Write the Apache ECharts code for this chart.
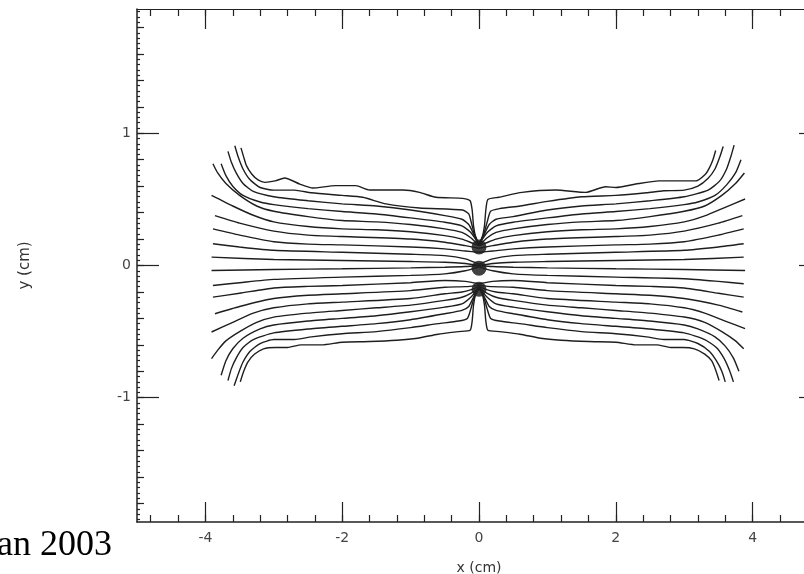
<!DOCTYPE html>
<html>
<head>
    <meta charset="utf-8">
    <title>field lines</title>
    <script src="https://cdn.jsdelivr.net/npm/echarts@6.0.0/dist/echarts.min.js"></script>
    <style>
        html, body { margin: 0; padding: 0; background: #fff; overflow: hidden; }
        /* the frame runs a little past the right edge of the picture */
        #main { width: 824px; height: 574px; }
    </style>
</head>
<body>
<div id="main"></div>
<script type="text/javascript">
    // field lines, [x, y] in cm, top to bottom
    var leftLines = [
        [[-3.48,0.89],[-3.44,0.82],[-3.40,0.755],[-3.32,0.69],[-3.23,0.647],[-3.13,0.629],[-2.98,0.64],[-2.84,0.662],[-2.62,0.616],[-2.43,0.586],[-2.1,0.604],[-1.8,0.604],[-1.6,0.571],[-1.11,0.571],[-0.87,0.553],[-0.63,0.516],[-0.24,0.508],[-0.13,0.49],[-0.1,0.42],[-0.08,0.3],[-0.05,0.22],[0,0.16]],
        [[-3.57,0.906],[-3.52,0.82],[-3.45,0.73],[-3.35,0.65],[-3.2,0.59],[-3.0,0.57],[-2.7,0.57],[-2.45,0.55],[-2.0,0.53],[-1.7,0.516],[-1.36,0.466],[-0.87,0.435],[-0.24,0.42],[-0.15,0.39],[-0.11,0.32],[-0.07,0.24],[0,0.16]],
        [[-3.67,0.863],[-3.62,0.78],[-3.55,0.70],[-3.45,0.62],[-3.3,0.56],[-3.0,0.52],[-2.5,0.49],[-2.0,0.466],[-1.5,0.45],[-1.0,0.42],[-0.5,0.377],[-0.25,0.35],[-0.15,0.31],[-0.08,0.24],[0,0.16]],
        [[-3.77,0.77],[-3.7,0.68],[-3.6,0.6],[-3.45,0.53],[-3.2,0.48],[-3.0,0.46],[-2.5,0.43],[-2.0,0.408],[-1.5,0.39],[-1.0,0.36],[-0.5,0.327],[-0.25,0.30],[-0.12,0.25],[0,0.16]],
        [[-3.89,0.77],[-3.82,0.70],[-3.7,0.62],[-3.5,0.53],[-3.25,0.45],[-3.0,0.41],[-2.5,0.37],[-2.0,0.34],[-1.5,0.33],[-1.0,0.31],[-0.5,0.277],[-0.25,0.25],[-0.12,0.21],[0,0.15]],
        [[-3.91,0.53],[-3.6,0.45],[-3.3,0.38],[-3.0,0.33],[-2.5,0.295],[-2.0,0.277],[-1.5,0.27],[-1.0,0.255],[-0.5,0.226],[-0.25,0.2],[-0.1,0.17],[0,0.15]],
        [[-3.86,0.377],[-3.5,0.32],[-3.0,0.26],[-2.5,0.23],[-2.0,0.219],[-1.0,0.2],[-0.5,0.176],[-0.2,0.15],[0,0.13]],
        [[-3.89,0.277],[-3.5,0.23],[-3.0,0.18],[-2.5,0.162],[-2.0,0.156],[-1.0,0.14],[-0.5,0.126],[-0.2,0.11],[0,0.1]],
        [[-3.89,0.164],[-3.5,0.14],[-3.0,0.115],[-2.0,0.1],[-1.0,0.085],[-0.5,0.075],[-0.2,0.05],[0,0.01]],
        [[-3.91,0.063],[-3.0,0.045],[-2.0,0.038],[-1.0,0.03],[-0.5,0.025],[-0.2,0.015],[0,0]],
        [[-3.91,-0.038],[-3.0,-0.03],[-2.0,-0.025],[-1.0,-0.018],[-0.5,-0.013],[-0.2,-0.008],[0,0]],
        [[-3.89,-0.151],[-3.5,-0.13],[-3.0,-0.105],[-2.0,-0.088],[-1.0,-0.075],[-0.5,-0.063],[-0.2,-0.04],[0,-0.01]],
        [[-3.89,-0.239],[-3.5,-0.21],[-3.0,-0.17],[-2.5,-0.158],[-2.0,-0.151],[-1.0,-0.13],[-0.5,-0.113],[-0.2,-0.12],[0,-0.14]],
        [[-3.86,-0.365],[-3.5,-0.31],[-3.0,-0.25],[-2.5,-0.225],[-2.0,-0.214],[-1.0,-0.19],[-0.5,-0.164],[-0.2,-0.16],[0,-0.15]],
        [[-3.91,-0.503],[-3.6,-0.43],[-3.3,-0.36],[-3.0,-0.32],[-2.5,-0.29],[-2.0,-0.277],[-1.0,-0.25],[-0.5,-0.214],[-0.25,-0.2],[-0.1,-0.18],[0,-0.16]],
        [[-3.91,-0.704],[-3.82,-0.64],[-3.7,-0.57],[-3.5,-0.5],[-3.25,-0.43],[-3.0,-0.39],[-2.5,-0.36],[-2.0,-0.34],[-1.5,-0.32],[-1.0,-0.3],[-0.5,-0.264],[-0.25,-0.24],[-0.12,-0.21],[0,-0.17]],
        [[-3.77,-0.83],[-3.7,-0.72],[-3.6,-0.63],[-3.45,-0.55],[-3.2,-0.48],[-3.0,-0.45],[-2.5,-0.42],[-2.0,-0.40],[-1.5,-0.38],[-1.0,-0.35],[-0.5,-0.315],[-0.25,-0.29],[-0.12,-0.24],[0,-0.17]],
        [[-3.67,-0.87],[-3.62,-0.78],[-3.55,-0.70],[-3.45,-0.62],[-3.3,-0.56],[-3.0,-0.51],[-2.5,-0.48],[-2.0,-0.46],[-1.5,-0.44],[-1.0,-0.41],[-0.5,-0.365],[-0.25,-0.34],[-0.15,-0.31],[-0.08,-0.24],[0,-0.17]],
        [[-3.58,-0.91],[-3.52,-0.82],[-3.45,-0.73],[-3.35,-0.65],[-3.2,-0.59],[-3.0,-0.56],[-2.7,-0.56],[-2.45,-0.54],[-2.0,-0.516],[-1.5,-0.5],[-1.0,-0.47],[-0.6,-0.44],[-0.3,-0.42],[-0.17,-0.40],[-0.12,-0.33],[-0.07,-0.24],[0,-0.17]],
        [[-3.49,-0.88],[-3.44,-0.80],[-3.38,-0.73],[-3.28,-0.67],[-3.15,-0.63],[-2.98,-0.62],[-2.8,-0.62],[-2.6,-0.60],[-2.3,-0.60],[-2.0,-0.58],[-1.6,-0.575],[-1.2,-0.565],[-0.9,-0.55],[-0.6,-0.52],[-0.3,-0.50],[-0.13,-0.49],[-0.1,-0.42],[-0.08,-0.3],[-0.05,-0.22],[0,-0.17]]
    ];

    var rightLines = [
        [[3.46,0.87],[3.42,0.80],[3.37,0.74],[3.31,0.69],[3.17,0.64],[2.92,0.64],[2.63,0.64],[2.29,0.616],[2.0,0.59],[1.85,0.596],[1.56,0.553],[1.12,0.571],[0.63,0.553],[0.29,0.516],[0.13,0.5],[0.1,0.42],[0.08,0.3],[0.05,0.22],[0,0.16]],
        [[3.57,0.90],[3.52,0.82],[3.45,0.73],[3.35,0.66],[3.2,0.60],[3.0,0.57],[2.7,0.565],[2.45,0.55],[2.0,0.53],[1.5,0.52],[1.0,0.485],[0.6,0.45],[0.3,0.43],[0.17,0.41],[0.12,0.33],[0.07,0.24],[0,0.16]],
        [[3.73,0.91],[3.68,0.82],[3.62,0.73],[3.52,0.64],[3.35,0.57],[3.0,0.52],[2.5,0.49],[2.0,0.466],[1.5,0.45],[1.0,0.42],[0.5,0.37],[0.25,0.35],[0.15,0.31],[0.08,0.24],[0,0.16]],
        [[3.83,0.80],[3.75,0.70],[3.62,0.61],[3.45,0.53],[3.2,0.48],[3.0,0.46],[2.5,0.43],[2.0,0.408],[1.5,0.39],[1.0,0.36],[0.5,0.327],[0.25,0.30],[0.12,0.25],[0,0.16]],
        [[3.88,0.70],[3.75,0.62],[3.55,0.53],[3.3,0.45],[3.0,0.41],[2.5,0.37],[2.0,0.34],[1.5,0.33],[1.0,0.31],[0.5,0.277],[0.25,0.25],[0.12,0.21],[0,0.15]],
        [[3.89,0.503],[3.6,0.44],[3.3,0.375],[3.0,0.33],[2.5,0.295],[2.0,0.277],[1.5,0.27],[1.0,0.255],[0.5,0.226],[0.25,0.2],[0.1,0.17],[0,0.15]],
        [[3.85,0.377],[3.5,0.32],[3.0,0.26],[2.5,0.23],[2.0,0.219],[1.0,0.2],[0.5,0.176],[0.2,0.15],[0,0.13]],
        [[3.87,0.277],[3.5,0.23],[3.0,0.18],[2.5,0.162],[2.0,0.156],[1.0,0.14],[0.5,0.126],[0.2,0.11],[0,0.1]],
        [[3.87,0.164],[3.5,0.14],[3.0,0.115],[2.0,0.1],[1.0,0.085],[0.5,0.075],[0.2,0.05],[0,0.01]],
        [[3.87,0.063],[3.0,0.045],[2.0,0.038],[1.0,0.03],[0.5,0.025],[0.2,0.015],[0,0]],
        [[3.89,-0.038],[3.0,-0.03],[2.0,-0.025],[1.0,-0.018],[0.5,-0.013],[0.2,-0.008],[0,0]],
        [[3.87,-0.138],[3.5,-0.12],[3.0,-0.10],[2.0,-0.088],[1.0,-0.075],[0.5,-0.063],[0.2,-0.04],[0,-0.01]],
        [[3.87,-0.239],[3.5,-0.21],[3.0,-0.17],[2.5,-0.158],[2.0,-0.151],[1.0,-0.13],[0.5,-0.113],[0.2,-0.12],[0,-0.14]],
        [[3.85,-0.352],[3.5,-0.30],[3.0,-0.25],[2.5,-0.225],[2.0,-0.214],[1.0,-0.19],[0.5,-0.164],[0.2,-0.16],[0,-0.15]],
        [[3.89,-0.478],[3.6,-0.42],[3.3,-0.36],[3.0,-0.32],[2.5,-0.29],[2.0,-0.277],[1.0,-0.25],[0.5,-0.214],[0.25,-0.2],[0.1,-0.18],[0,-0.16]],
        [[3.87,-0.63],[3.75,-0.57],[3.55,-0.5],[3.3,-0.43],[3.0,-0.39],[2.5,-0.36],[2.0,-0.34],[1.5,-0.32],[1.0,-0.3],[0.5,-0.264],[0.25,-0.24],[0.12,-0.21],[0,-0.17]],
        [[3.80,-0.80],[3.72,-0.70],[3.6,-0.61],[3.45,-0.54],[3.2,-0.48],[3.0,-0.45],[2.5,-0.42],[2.0,-0.40],[1.5,-0.38],[1.0,-0.35],[0.5,-0.315],[0.25,-0.29],[0.12,-0.24],[0,-0.17]],
        [[3.72,-0.88],[3.66,-0.79],[3.58,-0.70],[3.47,-0.62],[3.3,-0.56],[3.0,-0.51],[2.5,-0.48],[2.0,-0.46],[1.5,-0.44],[1.0,-0.41],[0.5,-0.365],[0.25,-0.34],[0.15,-0.31],[0.08,-0.24],[0,-0.17]],
        [[3.60,-0.88],[3.55,-0.80],[3.47,-0.72],[3.37,-0.65],[3.2,-0.59],[3.0,-0.56],[2.7,-0.56],[2.45,-0.54],[2.0,-0.516],[1.5,-0.5],[1.0,-0.47],[0.6,-0.44],[0.3,-0.42],[0.17,-0.40],[0.12,-0.33],[0.07,-0.24],[0,-0.17]],
        [[3.51,-0.87],[3.46,-0.79],[3.40,-0.72],[3.30,-0.67],[3.15,-0.63],[2.98,-0.62],[2.8,-0.62],[2.6,-0.60],[2.3,-0.60],[2.0,-0.58],[1.6,-0.575],[1.2,-0.565],[0.9,-0.55],[0.6,-0.52],[0.3,-0.50],[0.13,-0.49],[0.1,-0.42],[0.08,-0.3],[0.05,-0.22],[0,-0.17]]
    ];

    var charges = [[0, 0.14], [0, -0.02], [0, -0.18]];

    var xMajor = [-4, -2, 0, 2, 4];
    var xMinor = [-4.8, -4.4, -4, -3.6, -3.2, -2.8, -2.4, -2, -1.6, -1.2, -0.8, -0.4, 0,
        0.4, 0.8, 1.2, 1.6, 2, 2.4, 2.8, 3.2, 3.6, 4, 4.4, 4.8];
    var yMajor = [-1, 0, 1];
    var yMinor = [-1.8, -1.6, -1.4, -1.2, -1, -0.8, -0.6, -0.4, -0.2, 0,
        0.2, 0.4, 0.6, 0.8, 1, 1.2, 1.4, 1.6, 1.8];
    // tiny ruler marks along the left frame
    var yFine = [];
    for (var f = -48; f <= 48; f++) {
        yFine.push(Math.round(f * 0.04 * 100) / 100);
    }

    var X_MIN = -5, X_MAX = 5, Y_MIN = -1.94, Y_MAX = 1.94;
    var frameColor = '#222';
    var labelFont = {color: '#444', fontFamily: 'DejaVu Sans', fontSize: 14};

    function xAx(pos, ticks, len, opts) {
        var a = {
            type: 'value', position: pos, min: X_MIN, max: X_MAX,
            axisLine: {show: false, onZero: false, lineStyle: {color: frameColor, width: 1.5}},
            axisTick: {show: true, inside: true, length: len, customValues: ticks,
                lineStyle: {color: frameColor, width: 1.2}},
            axisLabel: {show: false},
            splitLine: {show: false}
        };
        return Object.assign(a, opts || {});
    }

    function yAx(pos, ticks, len, opts) {
        var a = {
            type: 'value', position: pos, min: Y_MIN, max: Y_MAX,
            axisLine: {show: false, onZero: false, lineStyle: {color: frameColor, width: 1.5}},
            axisTick: {show: true, inside: true, length: len, customValues: ticks,
                lineStyle: {color: frameColor, width: 1.2}},
            axisLabel: {show: false},
            splitLine: {show: false}
        };
        return Object.assign(a, opts || {});
    }

    var series = [];
    leftLines.concat(rightLines).forEach(function (line) {
        series.push({
            type: 'line',
            data: line,
            symbol: 'none',
            smooth: 0.2,
            silent: true,
            lineStyle: {color: '#1e1e1e', width: 1.4}
        });
    });
    series.push({
        type: 'scatter',
        data: charges,
        symbolSize: 15,
        silent: true,
        itemStyle: {color: '#111'}
    });

    var dom = document.getElementById('main');
    var myChart = echarts.init(dom, null, {renderer: 'canvas'});

    var option = {
        animation: false,
        backgroundColor: '#fff',
        grid: {left: 137, right: 3, top: 9, bottom: 52, containLabel: false, outerBoundsMode: 'none'},
        xAxis: [
            xAx('bottom', xMinor, 7, {
                axisLine: {show: true, onZero: false, lineStyle: {color: frameColor, width: 1.5}},
                axisLabel: Object.assign({show: true, customValues: xMajor, margin: 9}, labelFont),
                name: 'x (cm)', nameLocation: 'middle', nameGap: 39,
                nameTextStyle: {color: '#333', fontFamily: 'DejaVu Sans', fontSize: 14}
            }),
            xAx('bottom', xMajor, 20),
            xAx('top', xMinor, 7, {
                axisLine: {show: true, onZero: false, lineStyle: {color: frameColor, width: 1.2}}
            }),
            xAx('top', xMajor, 20)
        ],
        yAxis: [
            yAx('left', yMinor, 7, {
                axisLine: {show: true, onZero: false, lineStyle: {color: frameColor, width: 1.5}},
                axisLabel: Object.assign({show: true, customValues: yMajor, margin: 6}, labelFont),
                name: 'y (cm)', nameLocation: 'middle', nameGap: 104,
                nameTextStyle: {color: '#333', fontFamily: 'DejaVu Sans', fontSize: 15}
            }),
            yAx('left', yMajor, 22),
            yAx('left', yFine, 3),
            yAx('right', yMinor, 7, {
                axisLine: {show: true, onZero: false, lineStyle: {color: frameColor, width: 1.5}}
            }),
            yAx('right', yMajor, 22)
        ],
        graphic: [{
            type: 'text',
            left: -3,
            top: 528,
            style: {
                text: 'an 2003',
                font: '36px "Liberation Serif"',
                fill: '#000'
            }
        }],
        series: series
    };

    myChart.setOption(option);
    window.addEventListener('resize', myChart.resize);
</script>
</body>
</html>
